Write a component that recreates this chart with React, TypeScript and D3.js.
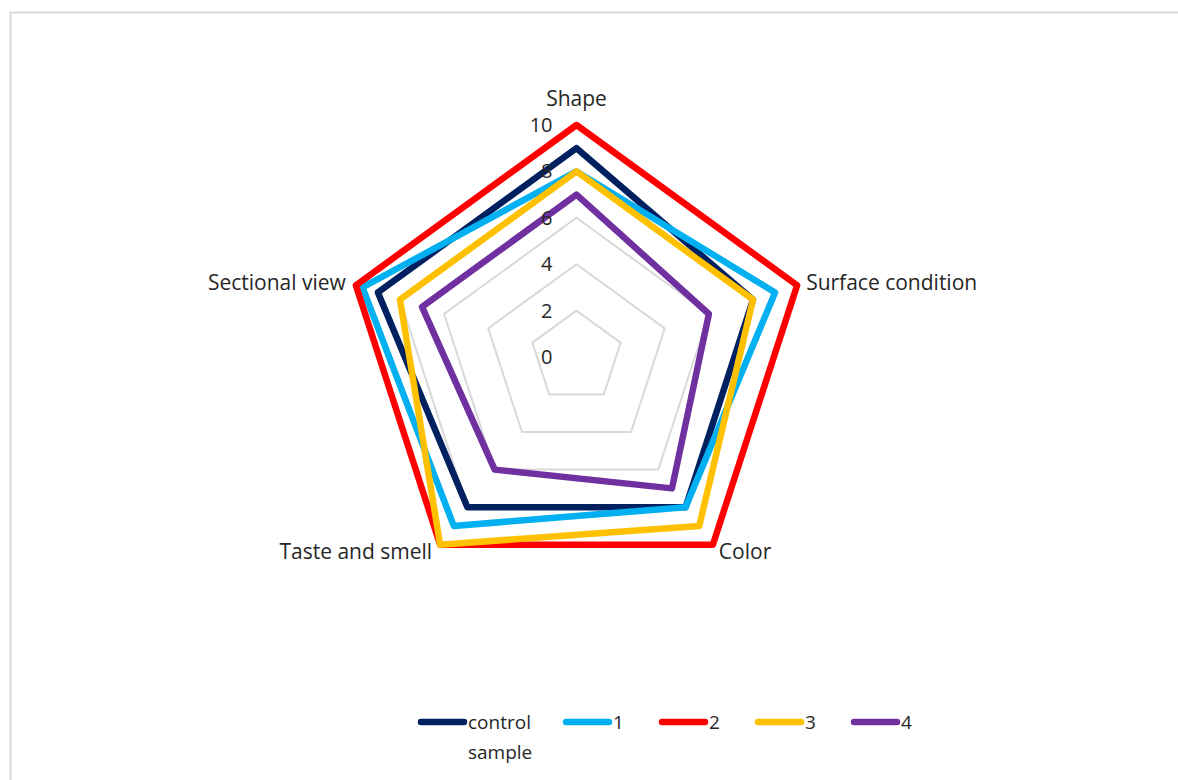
import { useEffect, useRef } from "react";
import * as d3 from "d3";

const categories = ["Shape", "Surface condition", "Color", "Taste and smell", "Sectional view"];
const seriesNames = ["control sample", "1", "2", "3", "4"];
const controlValues = [9, 8, 8, 8, 9];
const sample1Values = [8, 9, 8, 9, 9.7];
const sample2Values = [10, 10, 10, 10, 10];
const sample3Values = [8, 8, 9, 10, 8];
const sample4Values = [7, 6, 7, 6, 7];
const ticks = [0, 2, 4, 6, 8, 10];

const seriesColors = ["#002060", "#00B0F0", "#FF0000", "#FFC000", "#7030A0"];

const W = 1178;
const H = 780;
const FONT = "'Open Sans', sans-serif";

const App = () => {
  const svgRef = useRef<SVGSVGElement>(null);

  useEffect(() => {
    if (!svgRef.current) return;
    const svg = d3.select(svgRef.current);
    svg.selectAll("*").remove();

    const cx = 576.5;
    const cy = 357;
    const r = d3.scaleLinear().domain([0, 10]).range([0, 232]);
    const angle = d3
      .scalePoint<string>()
      .domain(categories)
      .range([0, 2 * Math.PI * (categories.length - 1) / categories.length]);

    // outer frame
    svg
      .append("rect")
      .attr("x", 10.5)
      .attr("y", 12.5)
      .attr("width", W)
      .attr("height", H)
      .attr("fill", "#fff")
      .attr("stroke", "#d9d9d9")
      .attr("stroke-width", 2);

    const g = svg.append("g").attr("transform", `translate(${cx},${cy})`);

    // grid pentagons
    const gridLine = d3
      .lineRadial<string>()
      .angle((c) => angle(c) || 0)
      .curve(d3.curveLinearClosed);

    g.selectAll(".grid")
      .data(ticks.filter((t) => t > 0))
      .join("path")
      .attr("class", "grid")
      .attr("d", (t) => gridLine.radius(r(t))(categories))
      .attr("fill", "none")
      .attr("stroke", "#d9d9d9")
      .attr("stroke-width", 2);

    // series
    const allValues = [controlValues, sample1Values, sample2Values, sample3Values, sample4Values];
    const seriesLine = d3
      .lineRadial<number>()
      .angle((_, i) => angle(categories[i]) || 0)
      .radius((v) => r(v))
      .curve(d3.curveLinearClosed);

    g.selectAll(".series")
      .data(allValues)
      .join("path")
      .attr("class", "series")
      .attr("d", (vals) => seriesLine(vals))
      .attr("fill", "none")
      .attr("stroke", (_, i) => seriesColors[i])
      .attr("stroke-width", 6.5)
      .attr("stroke-linejoin", "round");

    // tick labels
    g.selectAll(".tick")
      .data(ticks)
      .join("text")
      .attr("class", "tick")
      .attr("x", -24)
      .attr("y", (t) => -r(t))
      .attr("dy", "0.35em")
      .attr("text-anchor", "end")
      .attr("font-family", FONT)
      .attr("font-size", 20)
      .attr("fill", "#262626")
      .text((t) => t);

    // category labels
    const labelPos = [
      { dx: 0, dy: -26, anchor: "middle" },
      { dx: 9, dy: -3, anchor: "start" },
      { dx: 6, dy: 7, anchor: "start" },
      { dx: -8, dy: 7, anchor: "end" },
      { dx: -10, dy: -3, anchor: "end" },
    ];
    g.selectAll(".cat")
      .data(categories)
      .join("text")
      .attr("class", "cat")
      .attr("x", (c, i) => r(10) * Math.sin(angle(c) || 0) + labelPos[i].dx)
      .attr("y", (c, i) => -r(10) * Math.cos(angle(c) || 0) + labelPos[i].dy)
      .attr("dy", "0.35em")
      .attr("text-anchor", (_, i) => labelPos[i].anchor)
      .attr("font-family", FONT)
      .attr("font-size", 21)
      .attr("fill", "#262626")
      .text((c) => c);

    // legend
    const legendX = d3.scalePoint<string>().domain(seriesNames).range([467, 851]);
    const legend = svg.append("g").attr("transform", "translate(0,722)");
    seriesNames.forEach((name, i) => {
      const x = (legendX(name) || 0) - (i === 0 ? 49 : 0);
      legend
        .append("line")
        .attr("x1", x + 3)
        .attr("x2", x + 46)
        .attr("y1", 0)
        .attr("y2", 0)
        .attr("stroke", seriesColors[i])
        .attr("stroke-width", 6.5)
        .attr("stroke-linecap", "round");
      const words = name.split(" ");
      const t = legend
        .append("text")
        .attr("x", x + 50)
        .attr("y", 0)
        .attr("font-family", FONT)
        .attr("font-size", 19)
        .attr("fill", "#262626");
      words.forEach((w, j) => {
        t.append("tspan")
          .attr("x", x + 50)
          .attr("dy", j === 0 ? "0.35em" : "1.6em")
          .text(w);
      });
    });
  }, []);

  return (
    <svg
      ref={svgRef}
      width={W}
      height={H}
      style={{ position: "absolute", left: 0, top: 0, background: "#fff" }}
    />
  );
};

export default App;
